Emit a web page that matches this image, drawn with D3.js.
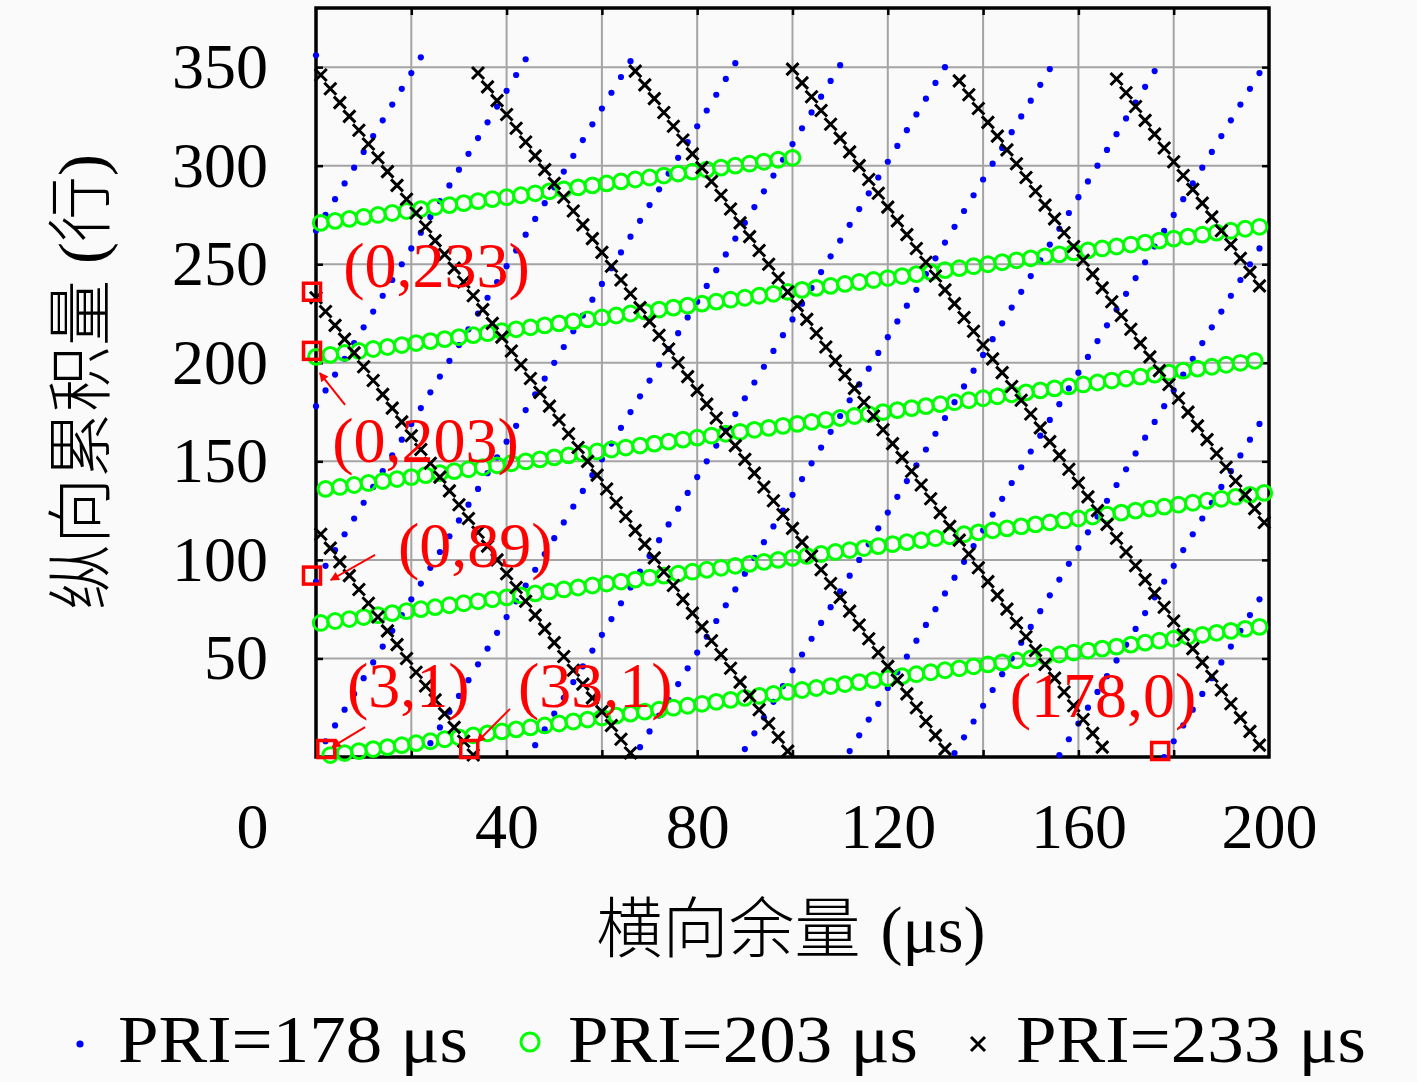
<!DOCTYPE html>
<html><head><meta charset="utf-8">
<script src="https://cdn.jsdelivr.net/npm/d3@7"></script>
<style>html,body{margin:0;padding:0;background:#fafafa;}svg{display:block;}</style>
</head><body>
<svg id="chart" width="1417" height="1082"></svg>
<script>
// ---------------- DATA ----------------
const xTickLabels = [0, 40, 80, 120, 160, 200];
const xGridValues = [20, 40, 60, 80, 100, 120, 140, 160, 180];
const yTickLabels = [50, 100, 150, 200, 250, 300, 350];
const seriesNames = ["PRI=178 μs", "PRI=203 μs", "PRI=233 μs"];

// PRI = 178 μs  [横向余量, 纵向累积量]
const pri178 = [
[2,8],[4,16],[6,24],[8,32],[10,40],[12,48],[14,56],[16,64],[18,72],[20,80],[22,88],[24,96],[26,104],[28,112],[30,120],[32,128],[34,136],[36,144],[38,152],[40,160],[42,168],[44,176],[46,184],[48,192],[50,200],[52,208],[54,216],[56,224],[58,232],[60,240],[62,248],[64,256],[66,264],[68,272],[70,280],[72,288],[74,296],[76,304],[78,312],[80,320],[82,328],[84,336],[86,344],[88,352],
[178,0],[180,8],[182,16],[184,24],[186,32],[188,40],[190,48],[192,56],[194,64],[196,72],[198,80],
[0,89],[2,97],[4,105],[6,113],[8,121],[10,129],[12,137],[14,145],[16,153],[18,161],[20,169],[22,177],[24,185],[26,193],[28,201],[30,209],[32,217],[34,225],[36,233],[38,241],[40,249],[42,257],[44,265],[46,273],[48,281],[50,289],[52,297],[54,305],[56,313],[58,321],[60,329],[62,337],[64,345],[66,353],
[156,1],[158,9],[160,17],[162,25],[164,33],[166,41],[168,49],[170,57],[172,65],[174,73],[176,81],[178,89],[180,97],[182,105],[184,113],[186,121],[188,129],[190,137],[192,145],[194,153],[196,161],[198,169],
[0,178],[2,186],[4,194],[6,202],[8,210],[10,218],[12,226],[14,234],[16,242],[18,250],[20,258],[22,266],[24,274],[26,282],[28,290],[30,298],[32,306],[34,314],[36,322],[38,330],[40,338],[42,346],[44,354],
[134,2],[136,10],[138,18],[140,26],[142,34],[144,42],[146,50],[148,58],[150,66],[152,74],[154,82],[156,90],[158,98],[160,106],[162,114],[164,122],[166,130],[168,138],[170,146],[172,154],[174,162],[176,170],[178,178],[180,186],[182,194],[184,202],[186,210],[188,218],[190,226],[192,234],[194,242],[196,250],[198,258],
[0,267],[2,275],[4,283],[6,291],[8,299],[10,307],[12,315],[14,323],[16,331],[18,339],[20,347],[22,355],
[112,3],[114,11],[116,19],[118,27],[120,35],[122,43],[124,51],[126,59],[128,67],[130,75],[132,83],[134,91],[136,99],[138,107],[140,115],[142,123],[144,131],[146,139],[148,147],[150,155],[152,163],[154,171],[156,179],[158,187],[160,195],[162,203],[164,211],[166,219],[168,227],[170,235],[172,243],[174,251],[176,259],[178,267],[180,275],[182,283],[184,291],[186,299],[188,307],[190,315],[192,323],[194,331],[196,339],[198,347],
[0,356],
[90,4],[92,12],[94,20],[96,28],[98,36],[100,44],[102,52],[104,60],[106,68],[108,76],[110,84],[112,92],[114,100],[116,108],[118,116],[120,124],[122,132],[124,140],[126,148],[128,156],[130,164],[132,172],[134,180],[136,188],[138,196],[140,204],[142,212],[144,220],[146,228],[148,236],[150,244],[152,252],[154,260],[156,268],[158,276],[160,284],[162,292],[164,300],[166,308],[168,316],[170,324],[172,332],[174,340],[176,348],
[68,5],[70,13],[72,21],[74,29],[76,37],[78,45],[80,53],[82,61],[84,69],[86,77],[88,85],[90,93],[92,101],[94,109],[96,117],[98,125],[100,133],[102,141],[104,149],[106,157],[108,165],[110,173],[112,181],[114,189],[116,197],[118,205],[120,213],[122,221],[124,229],[126,237],[128,245],[130,253],[132,261],[134,269],[136,277],[138,285],[140,293],[142,301],[144,309],[146,317],[148,325],[150,333],[152,341],[154,349],
[46,6],[48,14],[50,22],[52,30],[54,38],[56,46],[58,54],[60,62],[62,70],[64,78],[66,86],[68,94],[70,102],[72,110],[74,118],[76,126],[78,134],[80,142],[82,150],[84,158],[86,166],[88,174],[90,182],[92,190],[94,198],[96,206],[98,214],[100,222],[102,230],[104,238],[106,246],[108,254],[110,262],[112,270],[114,278],[116,286],[118,294],[120,302],[122,310],[124,318],[126,326],[128,334],[130,342],[132,350],
[24,7],[26,15],[28,23],[30,31],[32,39],[34,47],[36,55],[38,63],[40,71],[42,79],[44,87],[46,95],[48,103],[50,111],[52,119],[54,127],[56,135],[58,143],[60,151],[62,159],[64,167],[66,175],[68,183],[70,191],[72,199],[74,207],[76,215],[78,223],[80,231],[82,239],[84,247],[86,255],[88,263],[90,271],[92,279],[94,287],[96,295],[98,303],[100,311],[102,319],[104,327],[106,335],[108,343],[110,351]
];

// PRI = 203 μs
const pri203 = [
[3,1],[6,2],[9,3],[12,4],[15,5],[18,6],[21,7],[24,8],[27,9],[30,10],[33,11],[36,12],[39,13],[42,14],[45,15],[48,16],[51,17],[54,18],[57,19],[60,20],[63,21],[66,22],[69,23],[72,24],[75,25],[78,26],[81,27],[84,28],[87,29],[90,30],[93,31],[96,32],[99,33],[102,34],[105,35],[108,36],[111,37],[114,38],[117,39],[120,40],[123,41],[126,42],[129,43],[132,44],[135,45],[138,46],[141,47],[144,48],[147,49],[150,50],[153,51],[156,52],[159,53],[162,54],[165,55],[168,56],[171,57],[174,58],[177,59],[180,60],[183,61],[186,62],[189,63],[192,64],[195,65],[198,66],
[1,68],[4,69],[7,70],[10,71],[13,72],[16,73],[19,74],[22,75],[25,76],[28,77],[31,78],[34,79],[37,80],[40,81],[43,82],[46,83],[49,84],[52,85],[55,86],[58,87],[61,88],[64,89],[67,90],[70,91],[73,92],[76,93],[79,94],[82,95],[85,96],[88,97],[91,98],[94,99],[97,100],[100,101],[103,102],[106,103],[109,104],[112,105],[115,106],[118,107],[121,108],[124,109],[127,110],[130,111],[133,112],[136,113],[139,114],[142,115],[145,116],[148,117],[151,118],[154,119],[157,120],[160,121],[163,122],[166,123],[169,124],[172,125],[175,126],[178,127],[181,128],[184,129],[187,130],[190,131],[193,132],[196,133],[199,134],
[2,136],[5,137],[8,138],[11,139],[14,140],[17,141],[20,142],[23,143],[26,144],[29,145],[32,146],[35,147],[38,148],[41,149],[44,150],[47,151],[50,152],[53,153],[56,154],[59,155],[62,156],[65,157],[68,158],[71,159],[74,160],[77,161],[80,162],[83,163],[86,164],[89,165],[92,166],[95,167],[98,168],[101,169],[104,170],[107,171],[110,172],[113,173],[116,174],[119,175],[122,176],[125,177],[128,178],[131,179],[134,180],[137,181],[140,182],[143,183],[146,184],[149,185],[152,186],[155,187],[158,188],[161,189],[164,190],[167,191],[170,192],[173,193],[176,194],[179,195],[182,196],[185,197],[188,198],[191,199],[194,200],[197,201],
[0,203],
[3,204],[6,205],[9,206],[12,207],[15,208],[18,209],[21,210],[24,211],[27,212],[30,213],[33,214],[36,215],[39,216],[42,217],[45,218],[48,219],[51,220],[54,221],[57,222],[60,223],[63,224],[66,225],[69,226],[72,227],[75,228],[78,229],[81,230],[84,231],[87,232],[90,233],[93,234],[96,235],[99,236],[102,237],[105,238],[108,239],[111,240],[114,241],[117,242],[120,243],[123,244],[126,245],[129,246],[132,247],[135,248],[138,249],[141,250],[144,251],[147,252],[150,253],[153,254],[156,255],[159,256],[162,257],[165,258],[168,259],[171,260],[174,261],[177,262],[180,263],[183,264],[186,265],[189,266],[192,267],[195,268],[198,269],
[1,271],[4,272],[7,273],[10,274],[13,275],[16,276],[19,277],[22,278],[25,279],[28,280],[31,281],[34,282],[37,283],[40,284],[43,285],[46,286],[49,287],[52,288],[55,289],[58,290],[61,291],[64,292],[67,293],[70,294],[73,295],[76,296],[79,297],[82,298],[85,299],[88,300],[91,301],[94,302],[97,303],[100,304]
];

// PRI = 233 μs
const pri233 = [
[198,6],[196,13],[194,20],[192,27],[190,34],[188,41],[186,48],[184,55],[182,62],[180,69],[178,76],[176,83],[174,90],[172,97],[170,104],[168,111],[166,118],[164,125],[162,132],[160,139],[158,146],[156,153],[154,160],[152,167],[150,174],[148,181],[146,188],[144,195],[142,202],[140,209],[138,216],[136,223],[134,230],[132,237],[130,244],[128,251],[126,258],[124,265],[122,272],[120,279],[118,286],[116,293],[114,300],[112,307],[110,314],[108,321],[106,328],[104,335],[102,342],[100,349],
[165,5],[163,12],[161,19],[159,26],[157,33],[155,40],[153,47],[151,54],[149,61],[147,68],[145,75],[143,82],[141,89],[139,96],[137,103],[135,110],[133,117],[131,124],[129,131],[127,138],[125,145],[123,152],[121,159],[119,166],[117,173],[115,180],[113,187],[111,194],[109,201],[107,208],[105,215],[103,222],[101,229],[99,236],[97,243],[95,250],[93,257],[91,264],[89,271],[87,278],[85,285],[83,292],[81,299],[79,306],[77,313],[75,320],[73,327],[71,334],[69,341],[67,348],
[132,4],[130,11],[128,18],[126,25],[124,32],[122,39],[120,46],[118,53],[116,60],[114,67],[112,74],[110,81],[108,88],[106,95],[104,102],[102,109],[100,116],[98,123],[96,130],[94,137],[92,144],[90,151],[88,158],[86,165],[84,172],[82,179],[80,186],[78,193],[76,200],[74,207],[72,214],[70,221],[68,228],[66,235],[64,242],[62,249],[60,256],[58,263],[56,270],[54,277],[52,284],[50,291],[48,298],[46,305],[44,312],[42,319],[40,326],[38,333],[36,340],[34,347],
[99,3],[97,10],[95,17],[93,24],[91,31],[89,38],[87,45],[85,52],[83,59],[81,66],[79,73],[77,80],[75,87],[73,94],[71,101],[69,108],[67,115],[65,122],[63,129],[61,136],[59,143],[57,150],[55,157],[53,164],[51,171],[49,178],[47,185],[45,192],[43,199],[41,206],[39,213],[37,220],[35,227],[33,234],[31,241],[29,248],[27,255],[25,262],[23,269],[21,276],[19,283],[17,290],[15,297],[13,304],[11,311],[9,318],[7,325],[5,332],[3,339],[1,346],
[66,2],[64,9],[62,16],[60,23],[58,30],[56,37],[54,44],[52,51],[50,58],[48,65],[46,72],[44,79],[42,86],[40,93],[38,100],[36,107],[34,114],[32,121],[30,128],[28,135],[26,142],[24,149],[22,156],[20,163],[18,170],[16,177],[14,184],[12,191],[10,198],[8,205],[6,212],[4,219],[2,226],[0,233],
[198,239],[196,246],[194,253],[192,260],[190,267],[188,274],[186,281],[184,288],[182,295],[180,302],[178,309],[176,316],[174,323],[172,330],[170,337],[168,344],
[33,1],[31,8],[29,15],[27,22],[25,29],[23,36],[21,43],[19,50],[17,57],[15,64],[13,71],[11,78],[9,85],[7,92],[5,99],[3,106],[1,113],
[199,119],[197,126],[195,133],[193,140],[191,147],[189,154],[187,161],[185,168],[183,175],[181,182],[179,189],[177,196],[175,203],[173,210],[171,217],[169,224],[167,231],[165,238],[163,245],[161,252],[159,259],[157,266],[155,273],[153,280],[151,287],[149,294],[147,301],[145,308],[143,315],[141,322],[139,329],[137,336],[135,343]
];

// highlighted points
const markedPoints = [[0,233],[0,203],[0,89],[3,1],[33,1],[178,0]];
const markedLabels = ["(0,233)","(0,203)","(0,89)","(3,1)","(33,1)","(178,0)"];

// ---------------- LAYOUT ----------------
const W = 1417, H = 1082;
const serif = "'Liberation Serif','Times New Roman',serif";
const cjk = "'Liberation Serif','Noto Sans CJK SC',serif";
const x = d3.scaleLinear().domain([0, 200]).range([316, 1269]);
const y = d3.scaleLinear().domain([0, 380]).range([757, 8]);

// label anchors & arrows (in data units)
const labelAnchor = [[5.7,238.5],[3.4,149.7],[17.2,96.4],[6.5,25.4],[42.4,25.4],[145.6,20.3]];
const labelArrow = [null, [[6.1,178.6],[0.8,194.8]], [[12.4,102.5],[3.1,89.8]], [[10.3,15.2],[3.4,5.1]], [[40.7,24.4],[33.8,7.6]], null];

const svg = d3.select("#chart");
svg.append("rect").attr("width", W).attr("height", H).attr("fill", "#fafafa");

const defs = svg.append("defs");
defs.append("marker").attr("id", "arrowhead").attr("viewBox", "0 0 10 10")
  .attr("refX", 9).attr("refY", 5).attr("markerWidth", 6).attr("markerHeight", 4.5)
  .attr("orient", "auto").append("path").attr("d", "M0,0L10,5L0,10z").attr("fill", "#ff0000");

// grid
const grid = svg.append("g");
grid.selectAll("line.vx").data(xGridValues).join("line").attr("class","vx")
  .attr("x1", d => x(d)).attr("x2", d => x(d)).attr("y1", y(0)).attr("y2", y(380))
  .attr("stroke", "#a4a4a4").attr("stroke-width", 2);
grid.selectAll("line.hy").data(yTickLabels).join("line").attr("class","hy")
  .attr("y1", d => y(d)).attr("y2", d => y(d)).attr("x1", x(0)).attr("x2", x(200))
  .attr("stroke", "#a4a4a4").attr("stroke-width", 2);

// frame
svg.append("rect").attr("x", x(0)).attr("y", y(380))
  .attr("width", x(200) - x(0)).attr("height", y(0) - y(380))
  .attr("fill", "none").attr("stroke", "#000").attr("stroke-width", 3.5);

function styleTicks(g) {
  g.select(".domain").remove();
  g.selectAll(".tick line").attr("stroke", "#000").attr("stroke-width", 2.5);
}
svg.append("g").attr("transform", `translate(0,${y(0)})`)
  .call(d3.axisBottom(x).tickValues(xGridValues).tickSize(-7).tickFormat(""))
  .call(styleTicks);
svg.append("g").attr("transform", `translate(0,${y(380)})`)
  .call(d3.axisTop(x).tickValues(xGridValues).tickSize(-7).tickFormat(""))
  .call(styleTicks);
svg.append("g").attr("transform", `translate(${x(200)},0)`)
  .call(d3.axisRight(y).tickValues(yTickLabels).tickSize(-7).tickFormat(""))
  .call(styleTicks);

const gx = svg.append("g").attr("transform", `translate(0,${y(0)})`)
  .call(d3.axisBottom(x).tickValues(xTickLabels).tickSize(0).tickPadding(46));
gx.select(".domain").remove();
gx.selectAll("text").attr("font-family", serif).attr("font-size", 64).attr("fill", "#000");
gx.selectAll(".tick").filter(d => d === 0).select("text").attr("dx", -64);

const gy = svg.append("g").attr("transform", `translate(${x(0)},0)`)
  .call(d3.axisLeft(y).tickValues(yTickLabels).tickSize(-7).tickPadding(48));
gy.select(".domain").remove();
gy.selectAll(".tick line").attr("stroke", "#000").attr("stroke-width", 2.5);
gy.selectAll("text").attr("font-family", serif).attr("font-size", 64).attr("fill", "#000");

// series
svg.append("g").selectAll("circle").data(pri178).join("circle")
  .attr("cx", d => x(d[0])).attr("cy", d => y(d[1])).attr("r", 3.1).attr("fill", "#0000ff");
svg.append("g").selectAll("circle").data(pri203).join("circle")
  .attr("cx", d => x(d[0])).attr("cy", d => y(d[1])).attr("r", 7.4)
  .attr("fill", "none").attr("stroke", "#00ff00").attr("stroke-width", 3);
svg.append("g").selectAll("path").data(pri233).join("path")
  .attr("d", d => `M${x(d[0])-6},${y(d[1])-6}L${x(d[0])+6},${y(d[1])+6}M${x(d[0])-6},${y(d[1])+6}L${x(d[0])+6},${y(d[1])-6}`)
  .attr("stroke", "#000").attr("stroke-width", 3).attr("fill", "none");

// highlighted points
const ann = svg.append("g");
ann.selectAll("rect").data(markedPoints).join("rect")
  .attr("x", d => x(d[0]) - 4 - 8.5).attr("y", d => y(d[1]) - 6 - 8.5)
  .attr("width", 17).attr("height", 17)
  .attr("fill", "none").attr("stroke", "#ff0000").attr("stroke-width", 3.5);
ann.selectAll("line").data(labelArrow.filter(a => a)).join("line")
  .attr("x1", d => x(d[0][0])).attr("y1", d => y(d[0][1]))
  .attr("x2", d => x(d[1][0])).attr("y2", d => y(d[1][1]))
  .attr("stroke", "#ff0000").attr("stroke-width", 2).attr("marker-end", "url(#arrowhead)");
ann.selectAll("text").data(markedLabels).join("text")
  .attr("x", (d, i) => x(labelAnchor[i][0])).attr("y", (d, i) => y(labelAnchor[i][1]))
  .attr("font-family", serif).attr("font-size", 64).attr("fill", "#ff0000")
  .text(d => d);

// axis titles
svg.append("text").attr("x", 791).attr("y", 952).attr("text-anchor", "middle")
  .attr("font-family", cjk).attr("font-size", 66).attr("font-weight", 300).attr("fill", "#000")
  .call(t => { t.append("tspan").text("横向余量"); t.append("tspan").attr("dx", 20).text("(μs)"); });
svg.append("text").attr("transform", "translate(104,382) rotate(-90)").attr("text-anchor", "middle")
  .attr("font-family", cjk).attr("font-size", 66).attr("font-weight", 300).attr("fill", "#000")
  .call(t => { t.append("tspan").text("纵向累积量"); t.append("tspan").attr("dx", 16).text("(行)"); });

// legend
const legendX = [80, 530, 978];
const lg = svg.append("g");
const sy = 1044;
lg.append("circle").attr("cx", legendX[0]).attr("cy", sy).attr("r", 3.6).attr("fill", "#0000ff");
lg.append("circle").attr("cx", legendX[1]).attr("cy", sy - 2).attr("r", 9)
  .attr("fill", "none").attr("stroke", "#00ff00").attr("stroke-width", 3);
lg.append("path").attr("d", `M${legendX[2]-7},${sy-7}L${legendX[2]+7},${sy+7}M${legendX[2]-7},${sy+7}L${legendX[2]+7},${sy-7}`)
  .attr("stroke", "#000").attr("stroke-width", 3);
lg.selectAll("text").data(seriesNames).join("text")
  .attr("x", (d, i) => legendX[i] + 38).attr("y", 1062)
  .attr("font-family", serif).attr("font-size", 67).attr("fill", "#000")
  .attr("textLength", 350).attr("lengthAdjust", "spacingAndGlyphs")
  .text(d => d);
</script>
</body></html>
